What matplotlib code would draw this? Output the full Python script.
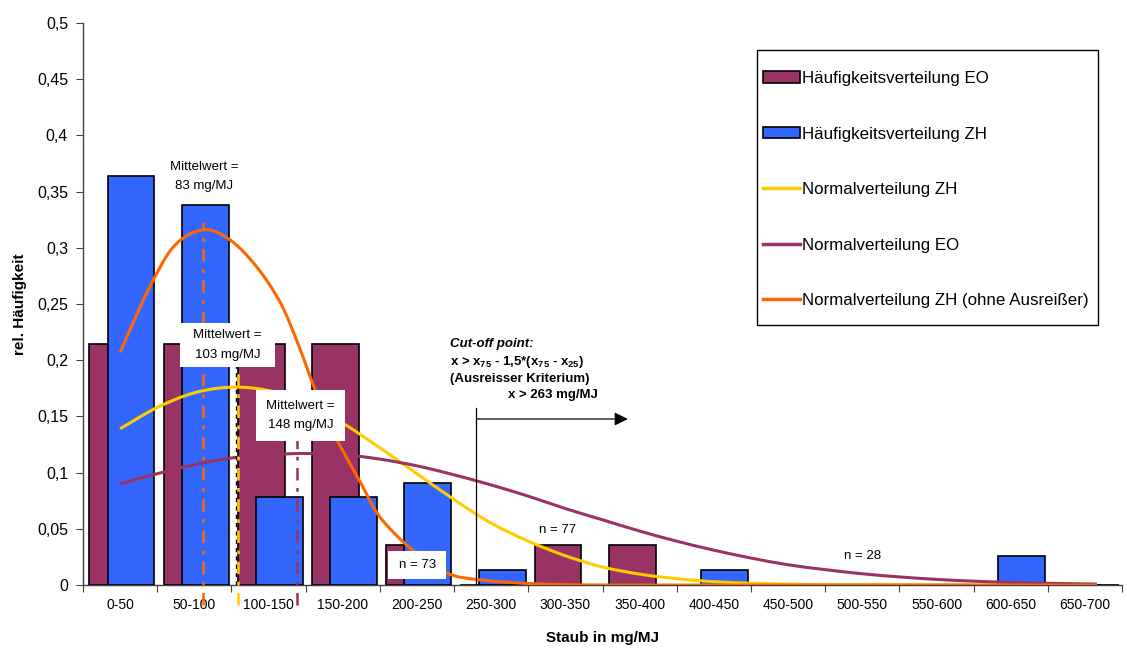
import matplotlib.pyplot as plt
from matplotlib.patches import Patch, Rectangle, PathPatch
from matplotlib.lines import Line2D
from matplotlib.path import Path

plt.rcParams['font.family'] = ['Liberation Sans', 'DejaVu Sans']
plt.rcParams['mathtext.fontset'] = 'custom'
plt.rcParams['mathtext.rm'] = 'Liberation Sans:bold'

# class data (mg/MJ)
categories = ['0-50', '50-100', '100-150', '150-200', '200-250', '250-300', '300-350',
              '350-400', '400-450', '450-500', '500-550', '550-600', '600-650', '650-700']
class_start = [0, 50, 100, 150, 200, 250, 300, 350, 400, 450, 500, 550, 600, 650]
freq_eo = [0.214, 0.214, 0.214, 0.214, 0.036, 0, 0.036, 0.036, 0, 0, 0, 0, 0, 0]
freq_zh = [0.364, 0.338, 0.078, 0.078, 0.091, 0.013, 0, 0, 0.013, 0, 0, 0, 0.026, 0]

# normal curves
curve_x = [25, 50, 75, 100, 125, 150, 175, 200, 225, 250, 275, 300, 325, 350, 375, 400,
           425, 450, 475, 500, 525, 550, 575, 600, 625, 650, 675, 683]
norm_zh = [0.139, 0.158, 0.171, 0.176, 0.173, 0.162, 0.144, 0.122, 0.099, 0.076, 0.055,
           0.039, 0.026, 0.016, 0.0097, 0.0056, 0.003, 0.0016, 0.0008, 0.0004, 0.0002,
           0.0001, 0, 0, 0, 0, 0, 0]
norm_eo = [0.090, 0.099, 0.107, 0.113, 0.116, 0.117, 0.116, 0.112, 0.106, 0.098, 0.089,
           0.079, 0.068, 0.058, 0.048, 0.039, 0.031, 0.024, 0.018, 0.0137, 0.010, 0.0072,
           0.005, 0.0034, 0.0023, 0.0015, 0.001, 0.0008]
orange_x = [25, 43, 61, 81, 99, 117, 133, 145, 156, 168, 187, 200, 222, 245, 268, 306,
            350, 450, 550, 683]
norm_zh_clean = [0.207, 0.260, 0.301, 0.316, 0.307, 0.283, 0.251, 0.214, 0.175, 0.137,
                 0.091, 0.0605, 0.031, 0.0107, 0.0045, 0.001, 0, 0, 0, 0]

mean_x = [81, 104.3, 144]   # where the mean lines sit in the chart
cutoff_x = 265
y_ticks = [0, 0.05, 0.1, 0.15, 0.2, 0.25, 0.3, 0.35, 0.4, 0.45, 0.5]
y_labels = ['0', '0,05', '0,1', '0,15', '0,2', '0,25', '0,3', '0,35', '0,4', '0,45', '0,5']

purple = '#993366'
blue = '#3366FF'
yellow = '#FFCC00'
orange = '#FF6600'


def smooth(xs, ys):
    # Excel-like smoothed line (Catmull-Rom as cubic Bezier)
    verts = [(xs[0], ys[0])]
    codes = [Path.MOVETO]
    n = len(xs)
    for i in range(n - 1):
        a, b = max(i - 1, 0), min(i + 2, n - 1)
        c1 = (xs[i] + (xs[i + 1] - xs[a]) / 6, ys[i] + (ys[i + 1] - ys[a]) / 6)
        c2 = (xs[i + 1] - (xs[b] - xs[i]) / 6, ys[i + 1] - (ys[b] - ys[i]) / 6)
        verts += [c1, c2, (xs[i + 1], ys[i + 1])]
        codes += [Path.CURVE4] * 3
    return Path(verts, codes)


fig = plt.figure(figsize=(11.27, 6.48), dpi=100)
ax = fig.add_axes([0.0737, 0.0972, 0.9219, 0.8673])

eo_left = [s + 4.2 for s in class_start]
zh_left = [s + 16.5 for s in class_start]
ax.bar(eo_left, freq_eo, width=31.6, align='edge', color=purple, edgecolor='black',
       linewidth=1.2, zorder=2)
ax.bar(zh_left, freq_zh, width=31.6, align='edge', color=blue, edgecolor='black',
       linewidth=1.2, zorder=3)

for xs, ys, c, z in [(curve_x, norm_zh, yellow, 4), (curve_x, norm_eo, purple, 4),
                     (orange_x, norm_zh_clean, orange, 5)]:
    ax.add_patch(PathPatch(smooth(xs, ys), facecolor='none', edgecolor=c, lw=2.2,
                           capstyle='butt', zorder=z))

# mean lines
dashdot = (0, (5, 3, 1.5, 3))
ax.plot([mean_x[0], mean_x[0]], [-0.018, 0.323], color=orange, lw=1.8, ls=dashdot,
        clip_on=False, zorder=6)
ax.plot([mean_x[1] - 1.2, mean_x[1] - 1.2], [0, 0.2], color='black', lw=1,
        ls=(0, (3, 3)), zorder=6)
ax.plot([mean_x[1], mean_x[1]], [-0.018, 0.2], color=yellow, lw=1.8, ls=dashdot,
        clip_on=False, zorder=6)
ax.plot([mean_x[2], mean_x[2]], [-0.018, 0.13], color=purple, lw=1.8, ls=dashdot,
        clip_on=False, zorder=6)

# cut-off marker
ax.plot([cutoff_x, cutoff_x], [0, 0.1575], color='black', lw=0.9, zorder=6)
ax.annotate('', xy=(367, 0.1477), xytext=(cutoff_x, 0.1477),
            arrowprops=dict(arrowstyle='-|>', color='black', lw=0.9,
                            mutation_scale=20, shrinkA=0, shrinkB=0), zorder=6)

# white label boxes
for x0, x1, y0, y1 in [(65.4, 129.4, 0.194, 0.2331), (116.6, 176.6, 0.1281, 0.1735),
                       (205.6, 244.7, 0.0053, 0.0302)]:
    ax.add_patch(Rectangle((x0, y0), x1 - x0, y1 - y0, facecolor='white',
                           edgecolor='none', zorder=7))

ax.text(81.6, 0.3634, 'Mittelwert =\n83 mg/MJ', ha='center', va='center', fontsize=9.5,
        linespacing=1.85, zorder=8)
ax.text(97.4, 0.2136, 'Mittelwert =\n103 mg/MJ', ha='center', va='center', fontsize=9.5,
        linespacing=1.85, zorder=8)
ax.text(146.6, 0.1508, 'Mittelwert =\n148 mg/MJ', ha='center', va='center', fontsize=9.5,
        linespacing=1.85, zorder=8)
ax.text(225.1, 0.0178, 'n = 73', ha='center', va='center', fontsize=9.5, zorder=8)
ax.text(320, 0.049, 'n = 77', ha='center', va='center', fontsize=9.5, zorder=8)
ax.text(525, 0.0258, 'n = 28', ha='center', va='center', fontsize=9.5, zorder=8)

ax.text(247.4, 0.2144, 'Cut-off point:', fontsize=9.5, fontweight='bold',
        fontstyle='italic', va='center', zorder=8)
ax.text(247.4, 0.1984,
        'x > $\\mathrm{x_{75}}$ - 1,5*($\\mathrm{x_{75}}$ - $\\mathrm{x_{25}}$)',
        fontsize=9.5, fontweight='bold', va='center', zorder=8)
ax.text(247.4, 0.1833, '(Ausreisser Kriterium)', fontsize=9.5, fontweight='bold',
        va='center', zorder=8)
ax.text(286.5, 0.169, 'x > 263 mg/MJ', fontsize=9.5, fontweight='bold', va='center',
        zorder=8)

ax.set_xlim(0, 700)
ax.set_ylim(0, 0.5)
ax.set_yticks(y_ticks)
ax.set_yticklabels(y_labels, fontsize=11.5)
ax.set_xticks(class_start + [700])
ax.set_xticklabels([])
ax.set_xticks([s + 25 for s in class_start], minor=True)
ax.set_xticklabels(categories, minor=True, fontsize=10)
ax.tick_params(axis='x', which='major', length=5, direction='out', color='#404040')
ax.tick_params(axis='x', which='minor', length=0, pad=9)
ax.tick_params(axis='y', length=5, direction='out', color='#404040', pad=5.8)
for side in ['top', 'right']:
    ax.spines[side].set_visible(False)
for side in ['left', 'bottom']:
    ax.spines[side].set_color('#404040')
    ax.spines[side].set_linewidth(1)

ax.set_xlabel('Staub in mg/MJ', fontsize=11, fontweight='bold', labelpad=14)
ax.set_ylabel('rel. Häufigkeit', fontsize=11, fontweight='bold', labelpad=7)

# legend: own frame, entries placed inside
ax.add_patch(Rectangle((0.649, 0.463), 0.328, 0.489, transform=ax.transAxes,
                       facecolor='white', edgecolor='black', lw=1, zorder=9,
                       clip_on=False))
handles = [
    Patch(facecolor=purple, edgecolor='black', linewidth=1.2),
    Patch(facecolor=blue, edgecolor='black', linewidth=1.2),
    Line2D([], [], color=yellow, lw=2.5),
    Line2D([], [], color=purple, lw=2.5),
    Line2D([], [], color=orange, lw=2.5),
]
labels = ['Häufigkeitsverteilung EO', 'Häufigkeitsverteilung ZH', 'Normalverteilung ZH',
          'Normalverteilung EO', 'Normalverteilung ZH (ohne Ausreißer)']
leg = ax.legend(handles, labels, loc='upper left', bbox_to_anchor=(0.6545, 0.9145),
                borderaxespad=0, borderpad=0, fontsize=12.2, labelspacing=2.39,
                handlelength=2.15, handleheight=0.65, handletextpad=0.15,
                frameon=False)
leg.set_zorder(10)

fig.savefig('out.png', dpi=100)
